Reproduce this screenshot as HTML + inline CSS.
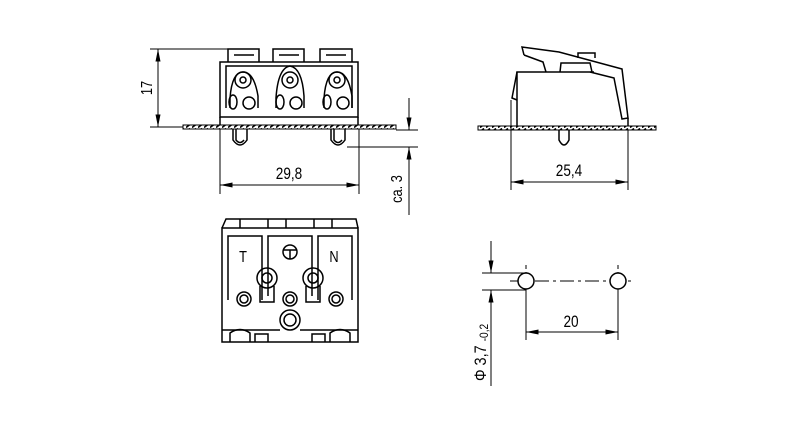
<!DOCTYPE html>
<html><head><meta charset="utf-8"><style>
html,body{margin:0;padding:0;background:#fff;}
svg{display:block;}
text{font-family:"Liberation Sans",sans-serif;fill:#000;}
</style></head><body>
<svg width="800" height="434" viewBox="0 0 800 434" xmlns="http://www.w3.org/2000/svg" fill="none" stroke="#000" stroke-width="1.5">
<defs>
<pattern id="hatch" width="6" height="4" patternUnits="userSpaceOnUse"><rect width="6" height="4" fill="#fff" stroke="none"/><path d="M0 3.5 L4 0.5" stroke="#000" stroke-width="1.6"/></pattern>
<marker id="ar" viewBox="0 0 10 4" refX="10" refY="2" markerWidth="14" markerHeight="5" orient="auto-start-reverse" markerUnits="userSpaceOnUse"><path d="M0 0 L10 2 L0 4 Z" fill="#000" stroke="none"/></marker>
</defs>

<!-- FRONT VIEW -->
<rect x="183" y="125" width="213" height="4" fill="url(#hatch)" stroke="#000" stroke-width="1"/>
<rect x="220" y="62" width="138" height="55"/>
<line x1="220" y1="117" x2="220" y2="125"/><line x1="358" y1="117" x2="358" y2="125"/>
<path d="M228 62 V49 H259 V62 M273 62 V49 H304 V62 M320 62 V49 H352 V62"/>
<path d="M234 55 h20 M279 55 h20 M326 55 h20" stroke-width="1.5"/>
<path d="M226 108 V66 H352 V108"/>
<g stroke-width="1.5">
<circle cx="243" cy="80" r="8"/><circle cx="243" cy="80" r="3"/>
<circle cx="290" cy="80" r="8"/><circle cx="290" cy="80" r="3"/>
<circle cx="337" cy="80" r="8"/><circle cx="337" cy="80" r="3"/>
<path d="M230 108 V98 Q232 72 243 72 Q254 72 258 96 V108"/>
<path d="M276 108 V98 Q278 68 290 66 Q302 68 304 96 V108"/>
<path d="M324 108 V98 Q326 72 337 72 Q348 72 352 96 V108"/>
<ellipse cx="233" cy="102" rx="4" ry="7"/><circle cx="249" cy="103" r="6"/>
<ellipse cx="280" cy="102" rx="4" ry="7"/><circle cx="296" cy="103" r="6"/>
<ellipse cx="327" cy="102" rx="4" ry="7"/><circle cx="343" cy="103" r="6"/>
</g>
<path d="M233 129 V140 Q240 150 247 140 V129 M236 129 V140 Q240 145 244 140"/>
<path d="M331 129 V140 Q338 150 345 140 V129 M334 129 V140 Q338 145 342 140"/>
<line x1="150" y1="49" x2="228" y2="49" stroke-width="1"/>
<line x1="150" y1="127" x2="183" y2="127" stroke-width="1"/>
<line x1="158" y1="49" x2="158" y2="127" stroke-width="1" marker-start="url(#ar)" marker-end="url(#ar)"/>
<text x="0" y="0" font-size="16" transform="translate(152,88) rotate(-90) scale(0.8,1)" text-anchor="middle" stroke="none">17</text>
<line x1="220" y1="129" x2="220" y2="194" stroke-width="1"/><line x1="359" y1="129" x2="359" y2="194" stroke-width="1"/>
<line x1="220" y1="185" x2="359" y2="185" stroke-width="1" marker-start="url(#ar)" marker-end="url(#ar)"/>
<text x="0" y="0" font-size="17" transform="translate(289,179) scale(0.8,1)" text-anchor="middle" stroke="none">29,8</text>
<line x1="396" y1="130" x2="418" y2="130" stroke-width="1"/>
<line x1="347" y1="147" x2="418" y2="147" stroke-width="1"/>
<line x1="409" y1="98" x2="409" y2="130" stroke-width="1" marker-end="url(#ar)"/>
<line x1="409" y1="215" x2="409" y2="147" stroke-width="1" marker-end="url(#ar)"/>
<text x="0" y="0" font-size="16" transform="translate(402,189) rotate(-90) scale(0.8,1)" text-anchor="middle" stroke="none">ca. 3</text>

<!-- SIDE VIEW -->
<rect x="478" y="126" width="178" height="4" fill="url(#hatch)" stroke="#000" stroke-width="1"/>
<path d="M517 126 V72 H594"/>
<path d="M517 72 L512 98 L517 100"/>
<path d="M524 55 L522 47 L559 52 L622 69 L628 118 L622 119 L614 78 L590 72"/>
<path d="M524 55 L543 62 L546 72 M560 72 L561 63 L590 63 L592 72"/>
<path d="M578 58 V53 H595 V58"/>
<path d="M628 118 V126"/>
<path d="M559 130 V140 Q564 150 569 140 V130"/>
<line x1="511" y1="100" x2="511" y2="190" stroke-width="1"/><line x1="628" y1="130" x2="628" y2="190" stroke-width="1"/>
<line x1="511" y1="182" x2="628" y2="182" stroke-width="1" marker-start="url(#ar)" marker-end="url(#ar)"/>
<text x="0" y="0" font-size="17" transform="translate(569,176) scale(0.8,1)" text-anchor="middle" stroke="none">25,4</text>

<!-- BOTTOM VIEW -->
<rect x="222" y="228" width="136" height="114"/>
<path d="M222 228 L226 219 H356 L358 228"/>
<path d="M240 219 v9 M268 219 v9 M286 219 v9 M314 219 v9 M332 219 v9"/>
<path d="M228 300 V236 H262 V300 M268 296 V236 H312 V296 M318 300 V236 H352 V300"/>
<text x="0" y="0" font-size="16" transform="translate(243,262) scale(0.8,1)" text-anchor="middle" stroke="none">T</text>
<text x="0" y="0" font-size="16" transform="translate(334,262) scale(0.8,1)" text-anchor="middle" stroke="none">N</text>
<circle cx="290" cy="252" r="7"/><line x1="283" y1="250" x2="297" y2="250"/><line x1="290" y1="250" x2="290" y2="259"/>
<circle cx="267" cy="278" r="10"/><circle cx="267" cy="278" r="5"/><path d="M260 286 V302 H274 V286"/>
<circle cx="313" cy="278" r="10"/><circle cx="313" cy="278" r="5"/><path d="M306 286 V302 H320 V286"/>
<circle cx="244" cy="299" r="7"/><circle cx="244" cy="299" r="4"/>
<circle cx="290" cy="299" r="7"/><circle cx="290" cy="299" r="4"/>
<circle cx="336" cy="299" r="7"/><circle cx="336" cy="299" r="4"/>
<circle cx="290" cy="320" r="10"/><circle cx="290" cy="320" r="6"/>
<path d="M222 330 H280 M300 330 H358"/>
<path d="M230 342 V333 Q240 326 250 333 V342 M255 342 V334 H268 V342 M312 342 V334 H325 V342 M330 342 V333 Q340 326 350 333 V342"/>

<!-- HOLE PATTERN -->
<line x1="510" y1="281" x2="635" y2="281" stroke-width="1" stroke-dasharray="14 4 3 4"/>
<line x1="526" y1="265" x2="526" y2="296" stroke-width="1" stroke-dasharray="4 3"/>
<line x1="618" y1="265" x2="618" y2="296" stroke-width="1" stroke-dasharray="4 3"/>
<circle cx="526" cy="281" r="8" fill="#fff"/>
<circle cx="618" cy="281" r="8" fill="#fff"/>
<line x1="482" y1="273" x2="526" y2="273" stroke-width="1"/>
<line x1="482" y1="290" x2="526" y2="290" stroke-width="1"/>
<line x1="491" y1="241" x2="491" y2="273" stroke-width="1" marker-end="url(#ar)"/>
<line x1="491" y1="386" x2="491" y2="290" stroke-width="1" marker-end="url(#ar)"/>
<line x1="526" y1="290" x2="526" y2="340" stroke-width="1"/><line x1="618" y1="290" x2="618" y2="340" stroke-width="1"/>
<line x1="526" y1="332" x2="618" y2="332" stroke-width="1" marker-start="url(#ar)" marker-end="url(#ar)"/>
<text x="0" y="0" font-size="17" transform="translate(571,327) scale(0.8,1)" text-anchor="middle" stroke="none">20</text>
<text x="0" y="0" font-size="17" transform="translate(486,381) rotate(-90) scale(0.85,1)" stroke="none">Φ 3,7 <tspan font-size="12" dy="2">-0,2</tspan></text>
</svg>
</body></html>
